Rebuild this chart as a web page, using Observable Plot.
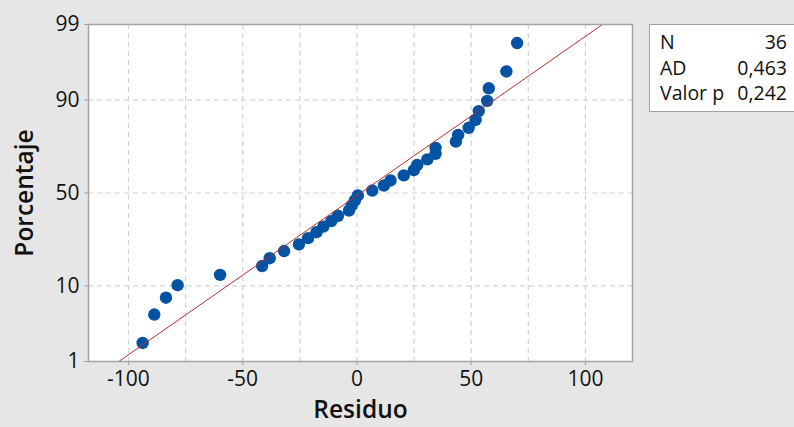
<!DOCTYPE html>
<html>
<head>
<meta charset="utf-8">
<script src="https://cdn.jsdelivr.net/npm/d3@7"></script>
<script src="https://cdn.jsdelivr.net/npm/@observablehq/plot@0.6"></script>
<style>
  html, body { margin: 0; padding: 0; background: #e6e6e6; overflow: hidden; }
  #wrap { position: relative; width: 794px; height: 427px; }
  #legend { position: absolute; left: 649px; top: 24px; width: 170px; height: 88px;
    background: #fff; border: 1.5px solid #a3a3a3; box-sizing: border-box;
    font-family: "Open Sans", sans-serif; font-size: 19.5px; font-weight: 500; color: #111; }
  #legend .row { position: absolute; left: 10px; width: 127px; height: 26px; line-height: 26px; }
  #legend .lab { position: absolute; left: 0; }
  #legend .val { position: absolute; right: 0; }
</style>
</head>
<body>
<div id="wrap"><div id="chart"></div><div id="legend"></div></div>
<script>
// Residuals (sorted)
const residuals = [-93.8, -88.7, -83.6, -78.5, -59.9, -41.5, -38.2, -31.9, -25.4, -21.4,
  -17.7, -14.7, -11.2, -8.3, -3.5, -2.3, -0.9, 0.4, 6.7, 11.8,
  14.7, 20.5, 24.9, 26.4, 30.8, 34.4, 34.4, 43.3, 44.3, 48.9,
  51.9, 53.3, 57.0, 57.7, 65.4, 70.1];
// Plotted percentages (median ranks)
const percents = [1.92, 4.67, 7.42, 10.16, 12.91, 15.66, 18.41, 21.15, 23.90, 26.65,
  29.40, 32.14, 34.89, 37.64, 40.38, 43.13, 45.88, 48.63, 51.37, 54.12,
  56.87, 59.62, 62.36, 65.11, 67.86, 70.60, 73.35, 76.10, 78.85, 81.59,
  84.34, 87.09, 89.84, 92.58, 95.33, 98.08];
// Fitted normal line parameters
const fitMean = 1.6;
const fitSd = 45.5;
const fitPercents = [1, 99];
// Axes
const xTicks = [-100, -50, 0, 50, 100];
const xTickLabels = ["-100", "-50", "0", "50", "100"];
const xGrid = [-100, -75, -50, -25, 0, 25, 50, 75, 100];
const yTicks = [1, 10, 50, 90, 99];
const yTickLabels = ["1", "10", "50", "90", "99"];
const yGrid = [10, 50, 90];
const xDomain = [-117.5, 120.6];
// Stats box
const statLabels = ["N", "AD", "Valor p"];
const statValues = ["36", "0,463", "0,242"];

function probit(p) {
  const a=[-3.969683028665376e+01,2.209460984245205e+02,-2.759285104469687e+02,1.383577518672690e+02,-3.066479806614716e+01,2.506628277459239e+00];
  const b=[-5.447609879822406e+01,1.615858368580409e+02,-1.556989798598866e+02,6.680131188771972e+01,-1.328068155288572e+01];
  const c=[-7.784894002430293e-03,-3.223964580411365e-01,-2.400758277161838e+00,-2.549732539343734e+00,4.374664141464968e+00,2.938163982698783e+00];
  const d=[7.784695709041462e-03,3.224671290700398e-01,2.445134137142996e+00,3.754408661907416e+00];
  const pl = 0.02425, ph = 1 - pl;
  if (p < pl) { const q = Math.sqrt(-2*Math.log(p)); return (((((c[0]*q+c[1])*q+c[2])*q+c[3])*q+c[4])*q+c[5])/((((d[0]*q+d[1])*q+d[2])*q+d[3])*q+1); }
  if (p <= ph) { const q = p - 0.5, r = q*q; return (((((a[0]*r+a[1])*r+a[2])*r+a[3])*r+a[4])*r+a[5])*q/(((((b[0]*r+b[1])*r+b[2])*r+b[3])*r+b[4])*r+1); }
  const q = Math.sqrt(-2*Math.log(1-p)); return -(((((c[0]*q+c[1])*q+c[2])*q+c[3])*q+c[4])*q+c[5])/((((d[0]*q+d[1])*q+d[2])*q+d[3])*q+1);
}
const z = p => probit(p / 100);

const points = residuals.map((r, i) => ({r, z: z(percents[i])}));
const fit = fitPercents.map(p => ({x: fitMean + fitSd * z(p), y: z(p)}));

const chart = Plot.plot({
  width: 794, height: 427,
  marginLeft: 88, marginRight: 162, marginTop: 24, marginBottom: 66,
  style: {background: "transparent", fontFamily: "'Open Sans', sans-serif", color: "#111"},
  x: {domain: xDomain, axis: null},
  y: {domain: [z(1), z(99)], axis: null},
  marks: [
    Plot.frame({fill: "white", stroke: null}),
    Plot.gridX(xGrid, {stroke: "#d2d2d2", strokeOpacity: 1, strokeWidth: 1.2, strokeDasharray: "5,4"}),
    Plot.gridY(yGrid.map(z), {stroke: "#d2d2d2", strokeOpacity: 1, strokeWidth: 1.2, strokeDasharray: "5,4"}),
    Plot.dot(points, {x: "r", y: "z", r: 6.2, fill: "#0353a4", stroke: null}),
    Plot.line(fit, {x: "x", y: "y", stroke: "#b3302c", strokeWidth: 1}),
    Plot.frame({stroke: "#a3a3a3", strokeWidth: 1.5}),
    Plot.axisX(xTicks, {anchor: "bottom", tickSize: 4, tickPadding: 6, fontSize: 21, fontWeight: 500, stroke: "#a3a3a3", fill: "#111",
      tickFormat: d => xTickLabels[xTicks.indexOf(d)], label: null}),
    Plot.axisY(yTicks.map(z), {anchor: "left", tickSize: 4, tickPadding: 5, fontSize: 21, fontWeight: 500, stroke: "#a3a3a3", fill: "#111",
      tickFormat: d => yTickLabels[yTicks.map(z).indexOf(d)], label: null}),
    Plot.text(["Residuo"], {frameAnchor: "bottom", dy: 56.5, fontSize: 24.5, fontWeight: 600, fill: "#111"}),
    Plot.text(["Porcentaje"], {frameAnchor: "left", textAnchor: "middle", dx: -63, rotate: -90, fontSize: 24.5, fontWeight: 600, fill: "#111"})
  ]
});
document.getElementById("chart").appendChild(chart);

const legend = document.getElementById("legend");
statLabels.forEach((lab, i) => {
  const row = document.createElement("div");
  row.className = "row";
  row.style.top = (4 + i * 25.5) + "px";
  row.innerHTML = `<span class="lab">${lab}</span><span class="val">${statValues[i]}</span>`;
  legend.appendChild(row);
});
</script>
</body>
</html>
